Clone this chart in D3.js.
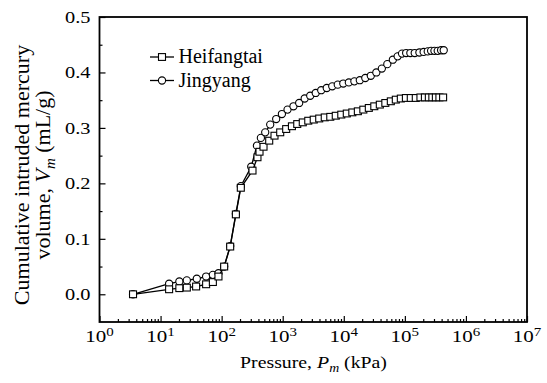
<!DOCTYPE html>
<html><head><meta charset="utf-8">
<script src="https://cdn.jsdelivr.net/npm/d3@7"></script>
<style>body{margin:0;background:#fff}svg{display:block}</style>
</head><body><svg id="c" width="547" height="383"></svg>
<script>
// Pressure (kPa) and cumulative volume (mL/g)
const heifangtaiP = [3.54,13.8,20.3,26.9,38.2,55.7,71.8,88.7,110,138,171,206,320,386,417,485,601,734,910,1140,1415,1730,2130,2620,3220,3960,4880,6010,7390,9100,11200,13800,17000,20900,25700,31600,38900,47900,58900,71100,85900,104000,125000,151000,180000,213000,247000,282000,322000,368000,423000];
const heifangtaiV = [0.000,0.009,0.011,0.012,0.014,0.018,0.022,0.032,0.050,0.086,0.144,0.192,0.223,0.247,0.257,0.266,0.277,0.286,0.292,0.298,0.303,0.307,0.310,0.313,0.315,0.317,0.319,0.320,0.322,0.324,0.326,0.328,0.330,0.333,0.336,0.339,0.342,0.345,0.348,0.351,0.353,0.354,0.354,0.354,0.355,0.355,0.355,0.355,0.355,0.355,0.355];
const jingyangP = [3.54,13.8,20.3,26.9,39.2,55.7,71.8,88.7,110,138,171,206,305,378,439,517,624,782,970,1200,1500,1860,2290,2820,3470,4270,5260,6470,7970,9810,12100,14900,18300,22500,27700,34100,42000,51600,63600,76200,89900,105000,123000,145000,173000,203000,237000,269000,305000,345000,392000,433000];
const jingyangV = [0.000,0.019,0.023,0.025,0.028,0.032,0.035,0.038,0.050,0.087,0.145,0.195,0.230,0.268,0.282,0.292,0.306,0.316,0.325,0.333,0.339,0.345,0.353,0.358,0.363,0.368,0.372,0.375,0.378,0.380,0.382,0.384,0.386,0.390,0.394,0.400,0.407,0.415,0.423,0.429,0.434,0.435,0.435,0.435,0.436,0.437,0.438,0.439,0.439,0.439,0.440,0.440];
const xTickExps = [0,1,2,3,4,5,6,7];
const yTicks = [0.0,0.1,0.2,0.3,0.4,0.5];
const yMinorTicks = [0.05,0.15,0.25,0.35,0.45];
const seriesNames = ["Heifangtai","Jingyang"];

const FF = '"Liberation Serif", "Times New Roman", Tinos, serif';
const K = 1.2; // horizontal stretch of the original figure's axis text

const svg = d3.select("#c").style("font-family",FF);
const L=99.5, R=527, T=17, B=322;
const x = d3.scaleLog().domain([1,1e7]).range([L,R]);
const y = d3.scaleLinear().domain([-0.05,0.5]).range([B,T]);
const stretch = (x0)=>`translate(${x0},0) scale(${K},1) translate(${-x0},0)`;

const xMinor = [];
xTickExps.slice(0,-1).forEach(e=>{for(let k=2;k<=9;k++) xMinor.push(k*Math.pow(10,e));});

// minor x ticks
svg.append("g").attr("transform",`translate(0,${B})`)
  .call(d3.axisBottom(x).tickValues(xMinor).tickSize(-3).tickFormat(""))
  .call(g=>g.select(".domain").remove())
  .selectAll("line").attr("stroke","#000").attr("stroke-width",1.2);
// major x ticks
svg.append("g").attr("transform",`translate(0,${B})`)
  .call(d3.axisBottom(x).tickValues(xTickExps.map(e=>Math.pow(10,e))).tickSize(-6).tickFormat(""))
  .call(g=>g.select(".domain").remove())
  .selectAll("line").attr("stroke","#000").attr("stroke-width",1.2);
// x tick labels
const xl = svg.append("g");
xTickExps.forEach(e=>{
  const cx = x(Math.pow(10,e));
  const t = xl.append("text").attr("x",cx).attr("y",B+20).attr("text-anchor","middle")
    .attr("transform",stretch(cx)).style("font-family",FF).style("font-size","17.5px");
  t.append("tspan").text("10");
  t.append("tspan").attr("dy",-6).style("font-size","12.5px").text(e);
});

// y ticks
svg.append("g").attr("transform",`translate(${L},0)`)
  .call(d3.axisLeft(y).tickValues(yMinorTicks).tickSize(-3).tickFormat(""))
  .call(g=>g.select(".domain").remove())
  .selectAll("line").attr("stroke","#000").attr("stroke-width",1.2);
const ya = svg.append("g").attr("transform",`translate(${L},0)`)
  .call(d3.axisLeft(y).tickValues(yTicks).tickSize(-6).tickPadding(9).tickFormat(d3.format(".1f")))
  .call(g=>g.select(".domain").remove());
ya.selectAll("line").attr("stroke","#000").attr("stroke-width",1.2);
ya.selectAll("text").attr("fill","#000").attr("transform",stretch(-9))
  .style("font-size","17px").style("font-family",FF);

// frame
svg.append("rect").attr("x",L).attr("y",T).attr("width",R-L).attr("height",B-T)
  .attr("fill","none").attr("stroke","#000").attr("stroke-width",1.8);

const line = d3.line().x(d=>x(d[0])).y(d=>y(d[1]));
const jd = jingyangP.map((p,i)=>[p,jingyangV[i]]);
const hd = heifangtaiP.map((p,i)=>[p,heifangtaiV[i]]);

function drawCircles(data){
  svg.append("path").datum(data).attr("d",line).attr("fill","none").attr("stroke","#000").attr("stroke-width",1.3);
  svg.append("g").selectAll("circle").data(data).join("circle")
    .attr("cx",d=>x(d[0])).attr("cy",d=>y(d[1])).attr("r",3.6)
    .attr("fill","#fff").attr("stroke","#000").attr("stroke-width",1.1);
}
function drawSquares(data){
  svg.append("path").datum(data).attr("d",line).attr("fill","none").attr("stroke","#000").attr("stroke-width",1.3);
  svg.append("g").selectAll("rect").data(data).join("rect")
    .attr("x",d=>x(d[0])-3.5).attr("y",d=>y(d[1])-3.4).attr("width",7).attr("height",6.8)
    .attr("fill","#fff").attr("stroke","#000").attr("stroke-width",1.1);
}
drawCircles(jd);
drawSquares(hd);

// legend
const lg = svg.append("g");
[57,80.5].forEach((ly,i)=>{
  lg.append("line").attr("x1",150).attr("x2",174).attr("y1",ly).attr("y2",ly).attr("stroke","#000").attr("stroke-width",1.3);
  if(i===0) lg.append("rect").attr("x",162-3.5).attr("y",ly-3.4).attr("width",7).attr("height",6.8).attr("fill","#fff").attr("stroke","#000").attr("stroke-width",1.1);
  else lg.append("circle").attr("cx",162).attr("cy",ly).attr("r",3.6).attr("fill","#fff").attr("stroke","#000").attr("stroke-width",1.1);
  lg.append("text").attr("x",178.5).attr("y",ly+6.3)
    .style("font-family",FF).style("font-size","20px").text(seriesNames[i]);
});

// x title
const xtc = 313.5;
const xt = svg.append("text").attr("x",xtc).attr("y",368).attr("text-anchor","middle")
  .attr("transform",stretch(xtc)).style("font-family",FF).style("font-size","16.5px");
xt.append("tspan").text("Pressure, ");
xt.append("tspan").style("font-style","italic").text("P");
xt.append("tspan").attr("dy",4).style("font-size","11.5px").style("font-style","italic").text("m");
xt.append("tspan").attr("dy",-4).text(" (kPa)");

// y title
const yt = svg.append("g").attr("transform",`translate(0,175) rotate(-90)`);
yt.append("text").attr("x",0).attr("y",29).attr("text-anchor","middle").style("font-family",FF).style("font-size","22px").text("Cumulative intruded mercury");
const y2 = yt.append("text").attr("x",0).attr("y",49.5).attr("text-anchor","middle").style("font-family",FF).style("font-size","22px");
y2.append("tspan").text("volume, ");
y2.append("tspan").style("font-style","italic").text("V");
y2.append("tspan").attr("dy",5).style("font-size","15px").style("font-style","italic").text("m");
y2.append("tspan").attr("dy",-5).text(" (mL/g)");
</script></body></html>
